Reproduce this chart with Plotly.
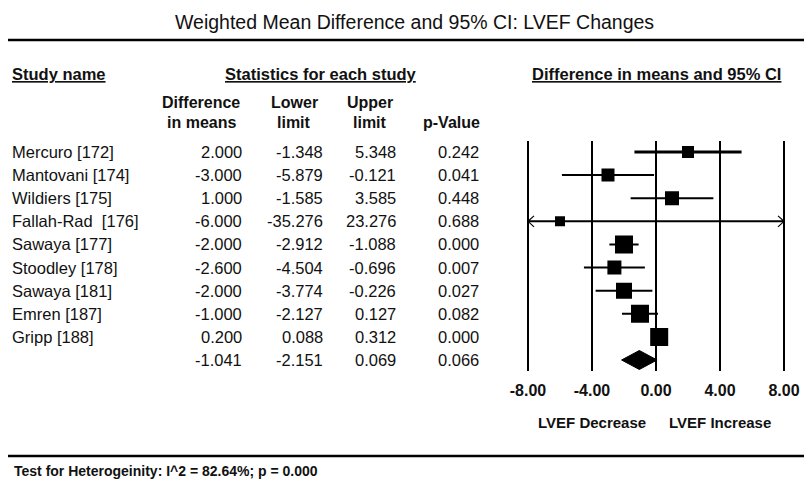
import plotly.graph_objects as go

# ---------------- data ----------------
studies = ["Mercuro [172]", "Mantovani [174]", "Wildiers [175]", "Fallah-Rad  [176]",
           "Sawaya [177]", "Stoodley [178]", "Sawaya [181]", "Emren [187]", "Gripp [188]"]
diff = [2.000, -3.000, 1.000, -6.000, -2.000, -2.600, -2.000, -1.000, 0.200]
lower = [-1.348, -5.879, -1.585, -35.276, -2.912, -4.504, -3.774, -2.127, 0.088]
upper = [5.348, -0.121, 3.585, 23.276, -1.088, -0.696, -0.226, 0.127, 0.312]
pval = [0.242, 0.041, 0.448, 0.688, 0.000, 0.007, 0.027, 0.082, 0.000]
pooled_diff = -1.041
pooled_lower = -2.151
pooled_upper = 0.069
pooled_p = 0.066
x_ticks = [-8, -4, 0, 4, 8]
side_labels = ["LVEF Decrease", "LVEF Increase"]
side_label_x = [-4, 4]
title_text = "Weighted Mean Difference and 95% CI: LVEF Changes"
footer_text = "Test for Heterogeinity: I^2 = 82.64%; p = 0.000"

# ---------------- styles ----------------
marker_px = [12, 13, 14, 10, 18, 14, 16, 18, 18]
ci_width = [3, 2, 2, 2, 2, 2, 2, 2, 2]
FONT = "Liberation Sans, Arial, sans-serif"
INK = "#111111"
W, H = 804, 480
ROW0_PX, ROW_STEP = 152.0, 23.11
PLOT_TOP, PLOT_BOT = 141.0, 371.0
ZERO_PX, UNIT_PX = 656.0, 16.0
XPAD = 8.2
AX_MIN, AX_MAX = min(x_ticks), max(x_ticks)


def px(x):
    return x / W


def py(y):
    return 1 - y / H


n = len(studies)
pooled_row = n

fig = go.Figure()

# CI lines
for i in range(n):
    lo = max(lower[i], AX_MIN)
    hi = min(upper[i], AX_MAX)
    fig.add_trace(go.Scatter(x=[lo, hi], y=[i, i], mode="lines",
                             line=dict(color="black", width=ci_width[i]),
                             hoverinfo="skip", showlegend=False))
    a, b = 6 / UNIT_PX, 5.5 / ROW_STEP
    if lower[i] < AX_MIN:
        fig.add_trace(go.Scatter(x=[AX_MIN + a, AX_MIN, AX_MIN + a], y=[i - b, i, i + b],
                                 mode="lines", line=dict(color="black", width=1.2),
                                 hoverinfo="skip", showlegend=False))
    if upper[i] > AX_MAX:
        fig.add_trace(go.Scatter(x=[AX_MAX - a, AX_MAX, AX_MAX - a], y=[i - b, i, i + b],
                                 mode="lines", line=dict(color="black", width=1.2),
                                 hoverinfo="skip", showlegend=False))

# point estimates
fig.add_trace(go.Scatter(x=diff, y=list(range(n)), mode="markers",
                         marker=dict(symbol="square", size=marker_px, color="black",
                                     opacity=1, line=dict(width=0)),
                         showlegend=False))

# pooled diamond
hh = 9.5 / ROW_STEP
fig.add_trace(go.Scatter(
    x=[pooled_lower, pooled_diff, pooled_upper, pooled_diff, pooled_lower],
    y=[pooled_row, pooled_row - hh, pooled_row, pooled_row + hh, pooled_row],
    mode="lines", fill="toself", fillcolor="black",
    line=dict(color="black", width=1), showlegend=False))

shapes = []
for t in x_ticks:
    shapes.append(dict(type="line", xref="x", yref="y domain", x0=t, x1=t, y0=0, y1=1,
                       line=dict(color="black", width=2), layer="below"))
for yy in [40, 456]:
    shapes.append(dict(type="line", xref="paper", yref="paper", x0=px(8), x1=1,
                       y0=py(yy), y1=py(yy), line=dict(color="black", width=2.5)))

ann = []
ann.append(dict(text=title_text, x=px(415), y=py(22), xref="paper", yref="paper",
                showarrow=False, xanchor="center", yanchor="middle",
                font=dict(family=FONT, size=19.5, color=INK)))

hdr_font = dict(family=FONT, size=16.5, color=INK, weight="bold")
for txt, xx, anchor in [("Study name", 10, "left"),
                        ("Statistics for each study", 321, "center"),
                        ("Difference in means and 95% CI", 656, "center")]:
    ann.append(dict(text="<u>" + txt + "</u>", x=px(xx), y=py(74), xref="paper", yref="paper",
                    showarrow=False, xanchor=anchor, yanchor="middle", font=hdr_font))

sub_font = dict(family=FONT, size=16, color=INK, weight="bold")
for txt, xx, yy in [("Difference", 201, 102), ("in means", 201, 122),
                    ("Lower", 294, 102), ("limit", 294, 122),
                    ("Upper", 370, 102), ("limit", 370, 122),
                    ("p-Value", 451, 122)]:
    ann.append(dict(text=txt, x=px(xx), y=py(yy), xref="paper", yref="paper",
                    showarrow=False, xanchor="center", yanchor="middle", font=sub_font))

body_font = dict(family=FONT, size=16.5, color=INK)
cols = [(diff, 244), (lower, 325), (upper, 398), (pval, 481)]
for i in range(n):
    ann.append(dict(text=studies[i], x=px(10), y=i, xref="paper", yref="y",
                    showarrow=False, xanchor="left", yanchor="middle", font=body_font))
    for arr, xr in cols:
        ann.append(dict(text=f"{arr[i]:.3f}", x=px(xr), y=i, xref="paper", yref="y",
                        showarrow=False, xanchor="right", yanchor="middle", font=body_font))
for val, (_, xr) in zip([pooled_diff, pooled_lower, pooled_upper, pooled_p], cols):
    ann.append(dict(text=f"{val:.3f}", x=px(xr), y=pooled_row, xref="paper", yref="y",
                    showarrow=False, xanchor="right", yanchor="middle", font=body_font))

for txt, xx in zip(side_labels, side_label_x):
    ann.append(dict(text=txt, x=xx, y=py(422), xref="x", yref="paper", showarrow=False,
                    xanchor="center", yanchor="middle",
                    font=dict(family=FONT, size=15, color=INK, weight="bold")))

ann.append(dict(text=footer_text, x=px(12), y=py(471), xref="paper", yref="paper",
                showarrow=False, xanchor="left", yanchor="middle",
                font=dict(family=FONT, size=14, color=INK, weight="bold")))

fig.update_layout(
    width=W, height=H, margin=dict(l=0, r=0, t=0, b=0, pad=0, autoexpand=False),
    paper_bgcolor="white", plot_bgcolor="white",
    showlegend=False, shapes=shapes, annotations=ann,
    xaxis=dict(range=[-XPAD, XPAD],
               domain=[px(ZERO_PX - XPAD * UNIT_PX), px(ZERO_PX + XPAD * UNIT_PX)],
               tickvals=x_ticks, ticktext=[f"{t:.2f}" for t in x_ticks],
               showgrid=False, zeroline=False, showline=False, automargin=False,
               ticks="outside", ticklen=5, tickcolor="rgba(0,0,0,0)",
               tickfont=dict(family=FONT, size=16, color=INK, weight="bold"),
               fixedrange=True),
    yaxis=dict(range=[(PLOT_BOT - ROW0_PX) / ROW_STEP, (PLOT_TOP - ROW0_PX) / ROW_STEP],
               domain=[py(PLOT_BOT), py(PLOT_TOP)], automargin=False,
               showgrid=False, zeroline=False, showline=False, showticklabels=False,
               ticks="", fixedrange=True),
)

fig.write_html("out.html")
